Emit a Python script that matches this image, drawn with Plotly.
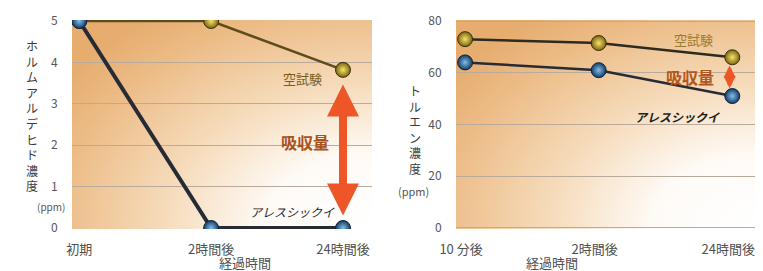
import base64
import plotly.graph_objects as go

# ---- data ----
left_categories = ["初期", "2時間後", "24時間後"]
left_blank = [5.0, 5.0, 3.82]          # 空試験
left_product = [5.0, 0.0, 0.0]         # アレスシックイ
left_yticks = [0, 1, 2, 3, 4, 5]

right_categories = ["10 分後", "2時間後", "24時間後"]
right_blank = [73.0, 71.5, 66.0]       # 空試験
right_product = [64.0, 61.0, 51.0]     # アレスシックイ
right_yticks = [0, 20, 40, 60, 80]

FONT = "Noto Sans CJK JP"
OFF = 8                     # page body margin
W, H = 763 - OFF, 271 - OFF


def px(x):
    return (x - OFF) / W


def py(y):
    return 1 - (y - OFF) / H


# background gradient (decoration) as an SVG image
svg = (
    '<svg xmlns="http://www.w3.org/2000/svg" width="100" height="100" '
    'viewBox="0 0 100 100" preserveAspectRatio="none">'
    '<defs><radialGradient id="g" cx="1" cy="1" r="1.25" gradientUnits="objectBoundingBox">'
    '<stop offset="0" stop-color="#ffffff"/>'
    '<stop offset="0.28" stop-color="#fefbf7"/>'
    '<stop offset="0.55" stop-color="#f6dcbc"/>'
    '<stop offset="0.85" stop-color="#ecbb85"/>'
    '<stop offset="1" stop-color="#e6ad6f"/>'
    '</radialGradient></defs>'
    '<rect x="0" y="0" width="100" height="100" fill="url(#g)"/></svg>'
)
bg_src = "data:image/svg+xml;base64," + base64.b64encode(svg.encode()).decode()

fig = go.Figure()

blank_line = "#5e4c1c"
prod_line = "#262b36"
gold_marker = dict(size=15, color="#7a6410", line=dict(color="#3a3010", width=1),
                   gradient=dict(type="radial", color="#f7e46a"))
blue_marker = dict(size=15, color="#173a62", line=dict(color="#10223a", width=1),
                   gradient=dict(type="radial", color="#7fc0ec"))

# left chart
fig.add_trace(go.Scatter(x=list(range(3)), y=left_blank, mode="lines+markers",
                         line=dict(color=blank_line, width=2.5), marker=gold_marker,
                         xaxis="x", yaxis="y", hoverinfo="skip"))
fig.add_trace(go.Scatter(x=list(range(3)), y=left_product, mode="lines+markers",
                         line=dict(color=prod_line, width=4), marker=blue_marker,
                         xaxis="x", yaxis="y", hoverinfo="skip"))
# right chart
fig.add_trace(go.Scatter(x=list(range(3)), y=right_blank, mode="lines+markers",
                         line=dict(color="#2e2a20", width=2.5), marker=gold_marker,
                         xaxis="x2", yaxis="y2", hoverinfo="skip"))
fig.add_trace(go.Scatter(x=list(range(3)), y=right_product, mode="lines+markers",
                         line=dict(color=prod_line, width=2.5), marker=blue_marker,
                         xaxis="x2", yaxis="y2", hoverinfo="skip"))

tickfont = dict(family=FONT, size=12, color="#555555")
xtickfont = dict(family=FONT, size=13, color="#505050")
ydom = [py(229), py(20)]

common_x = dict(tickmode="array", tickvals=[0, 1, 2], showgrid=False, zeroline=False,
                showline=False, ticks="outside", ticklen=8, tickcolor="rgba(0,0,0,0)",
                tickfont=xtickfont, fixedrange=True, automargin=False)
common_y = dict(tickmode="array", showgrid=True, gridcolor="#b9ab9c", gridwidth=1,
                zeroline=False, showline=False, ticks="outside", ticklen=11,
                tickcolor="rgba(0,0,0,0)", tickfont=tickfont, fixedrange=True,
                automargin=False)

fig.update_layout(
    width=W, height=H, margin=dict(l=0, r=0, t=0, b=0, autoexpand=False),
    paper_bgcolor="white", plot_bgcolor="rgba(0,0,0,0)", showlegend=False,
    font=dict(family=FONT),
    xaxis=dict(domain=[px(72), px(372)], range=[-0.055, 2.22],
               ticktext=left_categories, anchor="y", **common_x),
    yaxis=dict(domain=ydom, range=[-0.024, 5.024], tickvals=left_yticks,
               ticktext=[str(v) for v in left_yticks], anchor="x", **common_y),
    xaxis2=dict(domain=[px(456), px(759)], range=[-0.068, 2.2],
                ticktext=right_categories, anchor="y2", ticklabelshift=-4, **common_x),
    yaxis2=dict(domain=ydom, range=[-0.4, 80.4], tickvals=right_yticks,
                ticktext=[str(v) for v in right_yticks], anchor="x2", **common_y),
)

images = []
for xr, yr in (("x domain", "y domain"), ("x2 domain", "y2 domain")):
    images.append(dict(source=bg_src, xref=xr, yref=yr, x=0, y=1, sizex=1, sizey=1,
                       xanchor="left", yanchor="top", sizing="stretch", layer="below"))
fig.update_layout(images=images)

ann = []
title_font = dict(family=FONT, size=12, color="#3c3c3c")
# y-axis titles (vertical, upright characters)
ann.append(dict(xref="paper", yref="paper", x=px(32), y=py(116),
                text="<br>".join("ホルムアルデヒド濃度"), showarrow=False,
                font=title_font, xanchor="center", yanchor="middle"))
ann.append(dict(xref="paper", yref="paper", x=px(35), y=py(206), text="(ppm)",
                showarrow=False, yanchor="middle",
                font=dict(family=FONT, size=10, color="#555555")))
ann.append(dict(xref="paper", yref="paper", x=px(415), y=py(130),
                text="<br>".join("トルエン濃度"), showarrow=False,
                font=title_font, xanchor="center", yanchor="middle"))
ann.append(dict(xref="paper", yref="paper", x=px(413), y=py(191), text="(ppm)",
                showarrow=False, yanchor="middle",
                font=dict(family=FONT, size=11, color="#555555")))
# x-axis titles
ann.append(dict(xref="paper", yref="paper", x=px(217), y=py(262), text="経過時間",
                showarrow=False, yanchor="middle",
                font=dict(family=FONT, size=13, color="#505050")))
ann.append(dict(xref="paper", yref="paper", x=px(580), y=py(262), text="経過時間",
                showarrow=False, yanchor="middle",
                font=dict(family=FONT, size=13, color="#505050")))

# left chart labels
ann.append(dict(xref="x", yref="y", x=1.69, y=3.62, text="空試験", showarrow=False,
                font=dict(family=FONT, size=13, color="#7a5c1a")))
ann.append(dict(xref="x", yref="y", x=1.71, y=2.08, text="<b>吸収量</b>", showarrow=False,
                font=dict(family=FONT, size=16, color="#a8521e")))
ann.append(dict(xref="x", yref="y", x=1.62, y=0.39, text="<i>アレスシックイ</i>", showarrow=False,
                font=dict(family=FONT, size=12, color="#1e1e1e")))
ann.append(dict(xref="x", yref="y", axref="x", ayref="y", x=2, y=0.3, ax=2, ay=3.5,
                text="", showarrow=True, arrowhead=2, startarrowhead=2, arrowside="end+start",
                arrowwidth=8, arrowsize=0.8, startarrowsize=0.8, arrowcolor="#ee5527"))
# right chart labels
ann.append(dict(xref="x2", yref="y2", x=1.71, y=72.7, text="空試験", showarrow=False,
                font=dict(family=FONT, size=13, color="#9a7a30")))
ann.append(dict(xref="x2", yref="y2", x=1.68, y=58.5, text="<b>吸収量</b>", showarrow=False,
                font=dict(family=FONT, size=16, color="#b0561e")))
ann.append(dict(xref="x2", yref="y2", x=1.59, y=43, text="<i><b>アレスシックイ</b></i>", showarrow=False,
                font=dict(family=FONT, size=12, color="#1e1e1e")))
ann.append(dict(xref="x2", yref="y2", axref="x2", ayref="y2", x=1.98, y=54.0, ax=1.98, ay=63.4,
                text="", showarrow=True, arrowhead=2, startarrowhead=2, arrowside="end+start",
                arrowwidth=4, arrowsize=0.6, startarrowsize=0.6, arrowcolor="#ee5527"))
fig.update_layout(annotations=ann)

fig.write_html("out.html")
